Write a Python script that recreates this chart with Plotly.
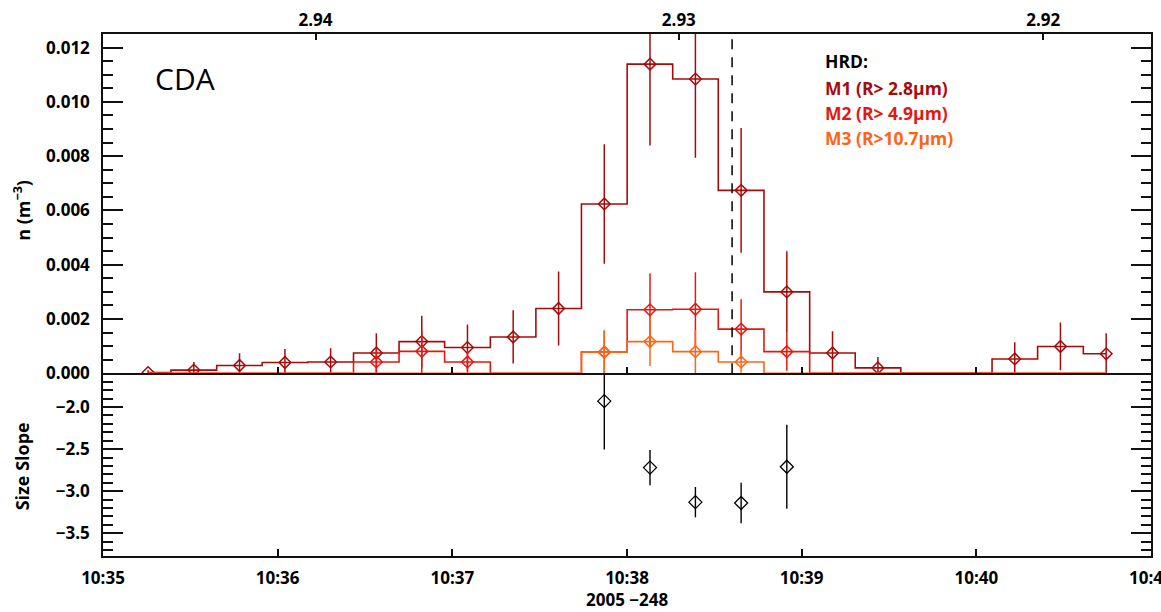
import plotly.graph_objects as go

DAY = "2005-09-05"  # 2005, day 248

# bin centre times (HH:MM:SS)
TIMES = ["10:35:15.5", "10:35:31.2", "10:35:46.9", "10:36:02.5", "10:36:18.2",
         "10:36:33.9", "10:36:49.5", "10:37:05.2", "10:37:20.9", "10:37:36.5",
         "10:37:52.2", "10:38:07.9", "10:38:23.5", "10:38:39.2", "10:38:54.9",
         "10:39:10.6", "10:39:26.2", "10:39:41.9", "10:39:57.6", "10:40:13.2",
         "10:40:28.9", "10:40:44.6"]

M1 = [0.00003, 0.00012, 0.00029, 0.00040, 0.00042, 0.00075, 0.00117, 0.00095,
      0.00134, 0.00239, 0.00624, 0.01139, 0.01084, 0.00674, 0.00300, 0.00075,
      0.00020, 0.0, 0.0, 0.00053, 0.00099, 0.00072]
M1_ERR = [0.00008, 0.00030, 0.00045, 0.00050, 0.00050, 0.00073, 0.00095, 0.00085,
          0.00098, 0.00136, 0.00220, 0.00300, 0.00290, 0.00230, 0.00150, 0.00080,
          0.00040, 0.0, 0.0, 0.00062, 0.00088, 0.00076]

M2 = [0.0, 0.0, 0.0, 0.0, 0.0, 0.00042, 0.00081, 0.00042, 0.0, 0.0,
      0.00078, 0.00234, 0.00236, 0.00163, 0.00080, 0.0, 0.0, 0.0, 0.0, 0.0, 0.0, 0.0]
M2_ERR = [0.0, 0.0, 0.0, 0.0, 0.0, 0.00050, 0.00080, 0.00040, 0.0, 0.0,
          0.00080, 0.00134, 0.00136, 0.00110, 0.00070, 0.0, 0.0, 0.0, 0.0, 0.0, 0.0, 0.0]

M3 = [0.0, 0.0, 0.0, 0.0, 0.0, 0.0, 0.0, 0.0, 0.0, 0.0,
      0.00078, 0.00117, 0.00080, 0.00042, 0.0, 0.0, 0.0, 0.0, 0.0, 0.0, 0.0, 0.0]
M3_ERR = [0.0, 0.0, 0.0, 0.0, 0.0, 0.0, 0.0, 0.0, 0.0, 0.0,
          0.00080, 0.00090, 0.00080, 0.00040, 0.0, 0.0, 0.0, 0.0, 0.0, 0.0, 0.0, 0.0]

SLOPE_TIMES = ["10:37:52.2", "10:38:07.9", "10:38:23.5", "10:38:39.2", "10:38:54.9"]
SLOPE = [-1.93, -2.72, -3.13, -3.14, -2.71]
SLOPE_ERR = [0.575, 0.21, 0.18, 0.24, 0.50]

DIST_TIMES = ["10:36:13.0", "10:38:17.8", "10:40:23.0"]
DIST_LABELS = ["2.94", "2.93", "2.92"]

MARK_TIME = "10:38:36.1"

SERIES = [
    ("M1 (R> 2.8\u00b5m)", M1, M1_ERR, "#a80a0a"),
    ("M2 (R> 4.9\u00b5m)", M2, M2_ERR, "#e3190f"),
    ("M3 (R>10.7\u00b5m)", M3, M3_ERR, "#ff6414"),
]


def ts(t):
    return f"{DAY} {t}"


X = [ts(t) for t in TIMES]
FONT = "Open Sans"
AX = "#111111"
tickfont = dict(family=FONT, size=17, color="black", weight="bold")

fig = go.Figure()

for name, vals, errs, col in SERIES:
    fig.add_trace(go.Scatter(
        x=X, y=vals, mode="lines", line=dict(shape="hvh", color=col, width=1.6),
        xaxis="x2", yaxis="y", showlegend=False, hoverinfo="skip"))
    mx = [x for x, v in zip(X, vals) if v > 0]
    my = [v for v in vals if v > 0]
    me = [e for v, e in zip(vals, errs) if v > 0]
    fig.add_trace(go.Scatter(
        x=mx, y=my, mode="markers", name=name,
        marker=dict(symbol="diamond-open", size=9, color=col, line=dict(width=1.5, color=col)),
        error_y=dict(type="data", array=me, width=0, thickness=1.5, color=col),
        xaxis="x2", yaxis="y", showlegend=False))

fig.add_trace(go.Scatter(
    x=[ts(t) for t in SLOPE_TIMES], y=SLOPE, mode="markers",
    marker=dict(symbol="diamond-open", size=10, color="black", line=dict(width=1.3, color="black")),
    error_y=dict(type="data", array=SLOPE_ERR, width=0, thickness=1.4, color="black"),
    xaxis="x", yaxis="y2", showlegend=False))

# invisible trace to activate top axis
fig.add_trace(go.Scatter(x=[ts(DIST_TIMES[0])], y=[0], mode="markers",
                         marker=dict(opacity=0), xaxis="x3", yaxis="y",
                         showlegend=False, hoverinfo="skip"))

xr = [ts("10:35:00"), ts("10:41:00")]
split = 183 / 523

fig.update_layout(
    width=1161, height=612,
    margin=dict(l=103, r=8, t=33, b=56),
    paper_bgcolor="white", plot_bgcolor="white",
    font=dict(family=FONT, color="black"),
    xaxis=dict(domain=[0, 1], anchor="y2", type="date", range=xr,
               tickformat="%H:%M", dtick=60000, ticks="inside", ticklen=7,
               tickcolor=AX, tickwidth=1.5, showline=True, mirror=False,
               linecolor=AX, linewidth=1.5, showgrid=False, zeroline=False,
               tickfont=tickfont, ticklabelstandoff=6),
    xaxis2=dict(domain=[0, 1], anchor="y", type="date", range=xr, matches="x",
                dtick=60000, ticks="inside", ticklen=7, tickcolor=AX, tickwidth=1.5,
                showticklabels=False, showline=True, mirror=True,
                linecolor=AX, linewidth=1.5, showgrid=False, zeroline=False),
    xaxis3=dict(overlaying="x2", side="top", anchor="y", type="date", range=xr,
                tickmode="array", tickvals=[ts(t) for t in DIST_TIMES],
                ticktext=DIST_LABELS, ticks="inside", ticklen=6, tickcolor=AX,
                tickwidth=1.5, showline=False, showgrid=False, zeroline=False,
                tickfont=tickfont, ticklabelstandoff=4),
    yaxis=dict(domain=[split, 1], anchor="x2", range=[0, 0.0125],
               tick0=0, dtick=0.002, tickformat=".3f", ticks="inside", ticklen=20,
               tickcolor=AX, tickwidth=1.5,
               minor=dict(dtick=0.0005, ticks="inside", ticklen=10, tickcolor=AX, tickwidth=1.5),
               showline=True, mirror="ticks", linecolor=AX, linewidth=1.5,
               showgrid=False, zeroline=False, tickfont=tickfont, ticklabelstandoff=8),
    yaxis2=dict(domain=[0, split], anchor="x", range=[-3.77, -1.60],
                tick0=-3.5, dtick=0.5, tickformat=".1f", ticks="inside", ticklen=20,
                tickcolor=AX, tickwidth=1.5,
                minor=dict(dtick=0.1, ticks="inside", ticklen=10, tickcolor=AX, tickwidth=1.5),
                showline=True, mirror="ticks", linecolor=AX, linewidth=1.5,
                showgrid=False, zeroline=False, tickfont=tickfont, ticklabelstandoff=8),
)

fig.add_shape(type="line", xref="x2", yref="y domain", x0=ts(MARK_TIME), x1=ts(MARK_TIME),
              y0=0, y1=1, line=dict(color="black", width=1.5, dash="10px,8px"))

ann = []
ann.append(dict(text="CDA", x=(185 - 103) / 1050, y=(556 - 78) / 523, xref="paper", yref="paper",
                showarrow=False, xanchor="center", yanchor="middle",
                font=dict(family=FONT, size=30, color="black")))
ann.append(dict(text="HRD:", x=(824 - 103) / 1050, y=(556 - 60) / 523, xref="paper", yref="paper",
                showarrow=False, xanchor="left", yanchor="middle",
                font=dict(family=FONT, size=17.5, color="black", weight="bold")))
for k, (name, _, _, col) in enumerate(SERIES):
    ann.append(dict(text=name, x=(824 - 103) / 1050, y=(556 - (87 + 25 * k)) / 523,
                    xref="paper", yref="paper", showarrow=False, xanchor="left", yanchor="middle",
                    font=dict(family=FONT, size=17.5, color=col, weight="bold")))
ann.append(dict(text="n (m<sup>\u22123</sup>)", x=(22 - 103) / 1050, y=(556 - 210) / 523,
                xref="paper", yref="paper", showarrow=False, textangle=-90,
                xanchor="center", yanchor="middle",
                font=dict(family=FONT, size=18, color="black", weight="bold")))
ann.append(dict(text="Size Slope", x=(22 - 103) / 1050, y=(556 - 466) / 523,
                xref="paper", yref="paper", showarrow=False, textangle=-90,
                xanchor="center", yanchor="middle",
                font=dict(family=FONT, size=18, color="black", weight="bold")))
ann.append(dict(text="2005 \u2212248", x=0.5, y=(556 - 600) / 523,
                xref="paper", yref="paper", showarrow=False,
                xanchor="center", yanchor="middle",
                font=dict(family=FONT, size=17, color="black", weight="bold")))
# last time tick label at the right edge (cut by the page edge as in the original)
ann.append(dict(text="10:41", x=1.0, y=(556 - 578) / 523,
                xref="paper", yref="paper", showarrow=False,
                xanchor="center", yanchor="middle",
                font=tickfont))
fig.update_layout(annotations=ann)

fig.write_html("out.html")
